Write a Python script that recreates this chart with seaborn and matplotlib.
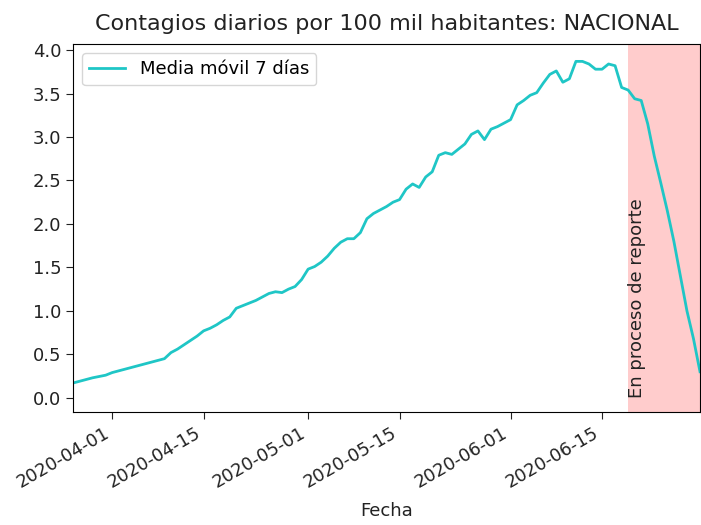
import matplotlib
matplotlib.use("Agg")
import matplotlib.pyplot as plt
import matplotlib.dates as mdates
import seaborn as sns
import pandas as pd
import numpy as np

start_date = "2020-03-26"
report_start = "2020-06-19"
values = [
    0.17, 0.19, 0.21, 0.23, 0.245, 0.26, 0.29, 0.31, 0.33, 0.35,
    0.37, 0.39, 0.41, 0.43, 0.45, 0.52, 0.56, 0.61, 0.66, 0.71,
    0.77, 0.80, 0.84, 0.89, 0.93, 1.03, 1.06, 1.09, 1.12, 1.16,
    1.20, 1.22, 1.21, 1.25, 1.28, 1.36, 1.48, 1.51, 1.56, 1.63,
    1.72, 1.79, 1.83, 1.83, 1.90, 2.06, 2.12, 2.16, 2.20, 2.25,
    2.28, 2.40, 2.46, 2.42, 2.54, 2.60, 2.79, 2.82, 2.80, 2.86,
    2.92, 3.03, 3.07, 2.97, 3.09, 3.12, 3.16, 3.20, 3.37, 3.42,
    3.48, 3.51, 3.62, 3.72, 3.76, 3.63, 3.67, 3.87, 3.87, 3.84,
    3.78, 3.78, 3.84, 3.82, 3.57, 3.54, 3.44, 3.42, 3.15, 2.78,
    2.47, 2.15, 1.80, 1.40, 1.00, 0.68, 0.30,
]
dates = pd.date_range(start_date, periods=len(values), freq="D")
df = pd.DataFrame({"Fecha": dates, "Media móvil 7 días": values})

fig = plt.figure(figsize=(7.01, 5.25), dpi=100)
ax = fig.add_axes([73/701, 1-411.7/525, (700-73)/701, (411.7-44)/525])

sns.lineplot(data=df, x="Fecha", y="Media móvil 7 días", ax=ax,
             color="#1fc6c6", linewidth=2, label="Media móvil 7 días")

ax.axvspan(pd.Timestamp(report_start), dates[-1], color="red", alpha=0.2, lw=0)
ax.text(pd.Timestamp(report_start), 0, "En proceso de reporte", rotation=90,
        fontsize=13, ha="left", va="bottom", color="#222222")

ax.set_xlim(dates[0], dates[-1])
ax.set_ylim(-0.16, 4.07)
ax.set_yticks(np.arange(0, 4.01, 0.5))
ax.xaxis.set_major_locator(mdates.DayLocator(bymonthday=[1, 15]))
ax.xaxis.set_major_formatter(mdates.DateFormatter("%Y-%m-%d"))
ax.tick_params(labelsize=13, length=5, colors="#222222")
for lab in ax.get_xticklabels():
    lab.set_rotation(30)
    lab.set_ha("right")
ax.set_xlabel("Fecha", fontsize=13, labelpad=8, color="#222222")
ax.set_ylabel("")
ax.set_title("Contagios diarios por 100 mil habitantes: NACIONAL", fontsize=16,
             pad=10, color="#222222")
ax.legend(loc="upper left", fontsize=13)

fig.savefig("out.png", dpi=100)
